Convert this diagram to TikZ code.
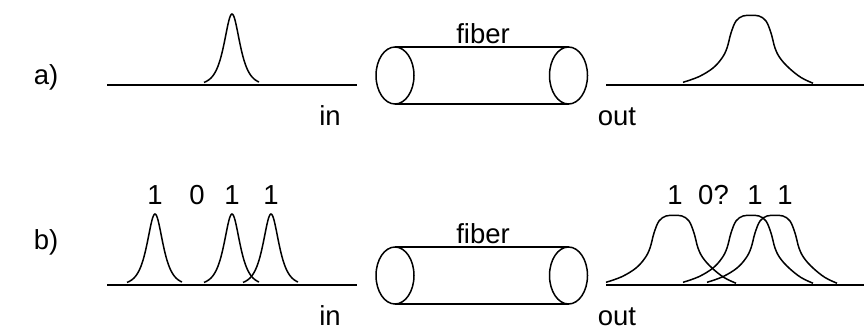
\documentclass[tikz,border=0pt]{standalone}
\usepackage{fontspec}
\setmainfont{Liberation Sans}
\begin{document}
\begin{tikzpicture}[x=1pt,y=-1pt,
  wire/.style={line width=1.5pt,black},
  lbl/.style={inner sep=0pt,anchor=base,font=\fontsize{27.5}{32}\selectfont},
  % short pulse at the fiber input
  narrowpulse/.pic={\draw[wire] plot[domain=-28:27,samples=70,smooth] (\x,{-71/cosh(\x/7)});},
  % broadened pulse at the fiber output
  widepulse/.pic={\draw[wire] plot[smooth,tension=0.6] coordinates {
      (-68,-2.7) (-52,-8.4) (-38,-17) (-29,-27) (-24,-37) (-20,-52) (-15,-64)
      (-8,-69) (0,-69.6) (8,-69) (15,-64) (20,-52) (24,-37) (29,-27)
      (38,-17) (50,-7.5) (62,-1.8)};}
]
\useasboundingbox (0,0) rectangle (864,325);

% row labels
\node[lbl] (la) at (46,84) {a)};
\node[lbl] (lb) at (46,249) {b)};

% fiber drawn as a cylinder in each row
\foreach \r/\dy in {a/0,b/200}{
  \begin{scope}[yshift=-\dy]
    \draw[wire] (395,75.5) ellipse [x radius=19,y radius=28.5];
    \draw[wire] (568.5,75.5) ellipse [x radius=19,y radius=28.5];
    \draw[wire] (395,47) -- (568.5,47);
    \draw[wire] (395,104) -- (568.5,104);
    \draw[wire] (107,85) -- (357,85);
    \draw[wire] (606,85) -- (864,85);
    \node[lbl] (fiber\r) at (483,43) {fiber};
    \node[lbl] (in\r) at (330,125) {in};
    \node[lbl] (out\r) at (617,125) {out};
  \end{scope}
}

% a) single pulse before and after the fiber
\pic at (232,85) {narrowpulse};
\pic at (751,85) {widepulse};

% b) bit stream 1 0 1 1 before and after the fiber
\foreach \px in {155,232,271} \pic at (\px,285) {narrowpulse};
\foreach \px in {674,751,775} \pic at (\px,285) {widepulse};

\node[lbl] (bi1) at (155,204) {1};
\node[lbl] (bi2) at (197,204) {0};
\node[lbl] (bi3) at (232,204) {1};
\node[lbl] (bi4) at (271,204) {1};

\node[lbl] (bo1) at (675,204) {1};
\node[lbl] (bo2) at (713.5,204) {0?};
\node[lbl] (bo3) at (755,204) {1};
\node[lbl] (bo4) at (785,204) {1};
\end{tikzpicture}
\end{document}
